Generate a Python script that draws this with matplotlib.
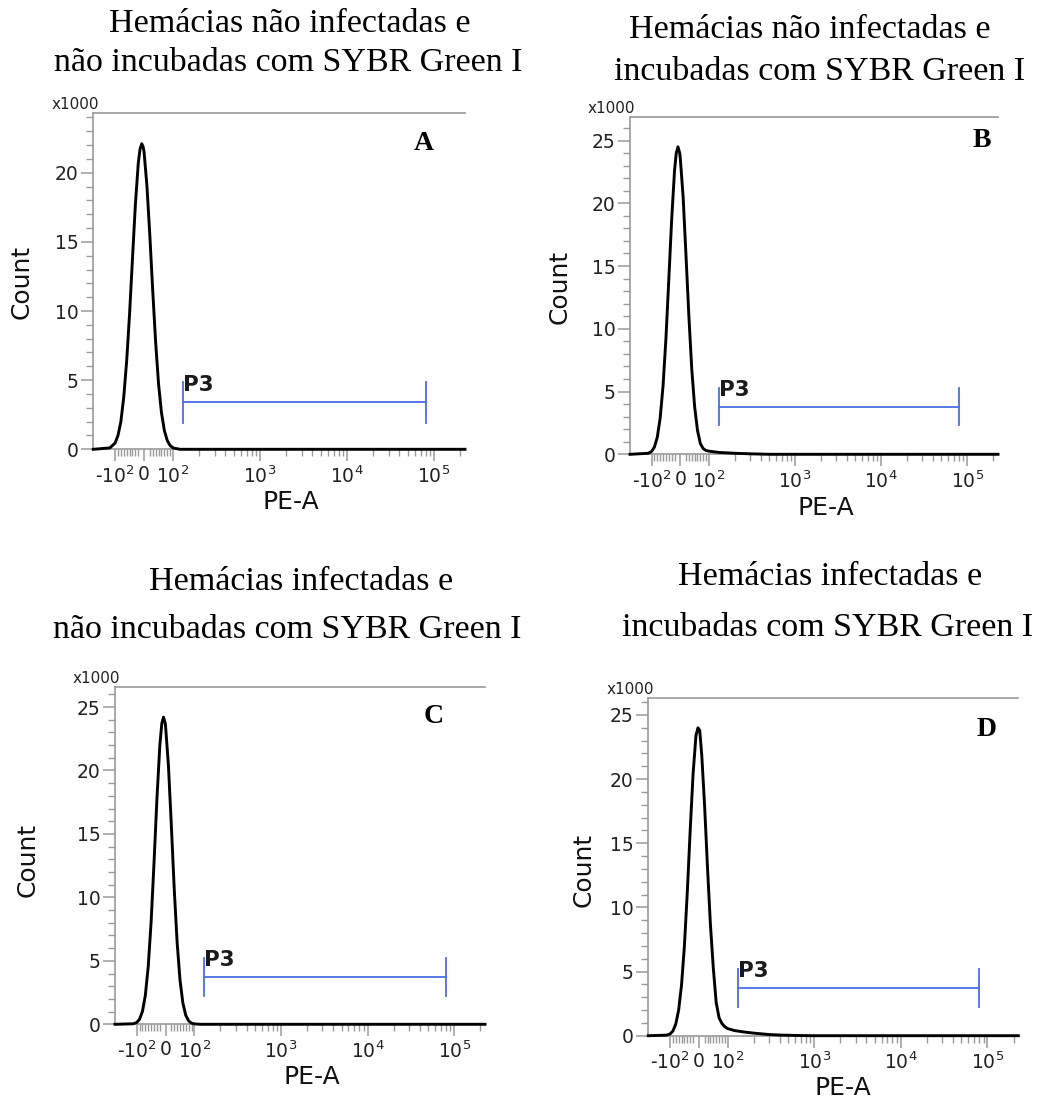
import matplotlib
matplotlib.use('Agg')
import matplotlib.pyplot as plt
from matplotlib.ticker import FixedLocator, NullFormatter, FixedFormatter

plt.rcParams['font.family'] = ['DejaVu Sans']
plt.rcParams['mathtext.fontset'] = 'dejavusans'

# ---------------- data (counts in thousands) ----------------
panel_letters = ['A', 'B', 'C', 'D']
title_line1 = ['Hemácias não infectadas e', 'Hemácias não infectadas e',
               'Hemácias infectadas e', 'Hemácias infectadas e']
title_line2 = ['não incubadas com SYBR Green I', 'incubadas com SYBR Green I',
               'não incubadas com SYBR Green I', 'incubadas com SYBR Green I']

x_A = [-178, -115, -100, -90, -80, -70, -60, -50, -40, -30, -20, -14, -8, -3, 0,
       10, 20, 30, 40, 50, 60, 70, 80, 90, 100, 120, 227000]
count_A = [0, 0.1, 0.45, 1.0, 2.0, 3.8, 6.4, 9.8, 13.8, 17.7, 20.7, 21.7, 22.1, 21.85, 21.5,
           19.0, 15.4, 11.4, 7.7, 4.7, 2.65, 1.35, 0.63, 0.27, 0.1, 0, 0]

x_B = [-178, -110, -100, -90, -80, -70, -60, -50, -40, -30, -20, -14, -8, -2, 0,
       10, 20, 30, 40, 50, 60, 70, 80, 90, 100, 130, 200, 300, 500, 227000]
count_B = [0, 0.08, 0.22, 0.58, 1.37, 2.9, 5.45, 9.2, 13.9, 18.7, 22.6, 24.0, 24.5, 24.0, 23.6,
           20.5, 15.8, 11.0, 6.8, 3.8, 1.9, 0.85, 0.45, 0.3, 0.25, 0.15, 0.08, 0.04, 0.0, 0]

x_C = [-178, -110, -100, -90, -80, -70, -60, -50, -40, -30, -20, -13, -7, -1, 0,
       10, 20, 30, 40, 50, 60, 70, 80, 90, 100, 120, 227000]
count_C = [0, 0.04, 0.14, 0.40, 1.02, 2.28, 4.56, 8.06, 12.7, 17.7, 21.9, 23.7, 24.2, 23.7, 23.5,
           20.4, 15.7, 10.7, 6.5, 3.5, 1.68, 0.71, 0.27, 0.09, 0.03, 0, 0]

x_D = [-178, -110, -100, -90, -80, -70, -60, -50, -40, -30, -20, -10, -3, 3,
       10, 20, 30, 40, 50, 60, 70, 80, 90, 100, 120, 150, 200, 300, 400, 600, 1000, 227000]
count_D = [0, 0.04, 0.13, 0.36, 0.9, 2.0, 3.95, 7.0, 11.2, 16.0, 20.4, 23.4, 24.0, 23.8,
           21.9, 17.9, 13.1, 8.7, 5.3, 2.6, 1.4, 0.95, 0.7, 0.55, 0.4, 0.3, 0.2, 0.09, 0.05, 0.02, 0, 0]

xs = [x_A, x_B, x_C, x_D]
counts = [count_A, count_B, count_C, count_D]

ymax = [24.34, 26.9, 26.6, 26.3]
gate_label = 'P3'
gate_lo, gate_hi = 130, 80000
gate_y = [3.4, 3.8, 3.75, 3.7]

x_major = [-100, 0, 100, 1000, 10000, 100000]
x_major_labels = ['-$10^{2}$', '0', '$10^{2}$', '$10^{3}$', '$10^{4}$', '$10^{5}$']
x_minor_lin = [-90, -80, -70, -60, -50, -40, -30, -20, 20, 30, 40, 50, 60, 70, 80, 90]

# ---------------- layout ----------------
W, H = 1043, 1101
fig = plt.figure(figsize=(W / 100, H / 100), dpi=100)

# axes boxes in pixels: left, top, right, bottom
boxes = [(93.3, 112.7, 465, 449.3),
         (630, 116.7, 998, 454.3),
         (115, 686.7, 485, 1024.3),
         (648.3, 698.3, 1018.3, 1035.7)]
letter_pos = [(0.888, 0.909), (0.956, 0.929), (0.860, 0.911), (0.915, 0.908)]
count_pos = [(-0.193, 0.498), (-0.19, 0.496), (-0.235, 0.487), (-0.176, 0.491)]
pea_pos = [(0.532, -0.156), (0.533, -0.159), (0.532, -0.155), (0.527, -0.156)]
title_px = [((289.5, 24), (288.5, 63)),
            ((810, 30), (820, 72)),
            ((301, 582), (287, 630)),
            ((830, 577), (828, 628))]

grey = '#9a9a9a'
blue = '#4a6ee0'

for i in range(4):
    l, t, r, b = boxes[i]
    ax = fig.add_axes([l / W, (H - b) / H, (r - l) / W, (b - t) / H])
    ax.set_xscale('symlog', linthresh=100, linscale=0.3, base=10)
    ax.set_xlim(-178, 227000)
    ax.set_ylim(0, ymax[i])

    ax.plot(xs[i], counts[i], color='black', lw=2.1, clip_on=False, zorder=3,
            solid_joinstyle='round')

    # gate
    gy = gate_y[i]
    ax.plot([gate_lo, gate_hi], [gy, gy], color=blue, lw=1.3, zorder=2)
    ax.plot([gate_lo, gate_lo], [gy - 1.5, gy + 1.5], color=blue, lw=1.3, zorder=2)
    ax.plot([gate_hi, gate_hi], [gy - 1.5, gy + 1.5], color=blue, lw=1.3, zorder=2)
    ax.text(gate_lo, gy + 0.55, gate_label, fontsize=15.5, fontweight='bold',
            color='#1a1a1a', ha='left', va='bottom')

    # spines
    ax.spines['right'].set_visible(False)
    for s in ['left', 'top', 'bottom']:
        ax.spines[s].set_color(grey)
        ax.spines[s].set_linewidth(1.2)

    # ticks
    ax.xaxis.set_major_locator(FixedLocator(x_major))
    ax.xaxis.set_major_formatter(FixedFormatter(x_major_labels))
    minors = list(x_minor_lin)
    for dec in [100, 1000, 10000, 100000]:
        for k in range(2, 10):
            v = dec * k
            if v <= 227000:
                minors.append(v)
    ax.xaxis.set_minor_locator(FixedLocator(minors))
    ax.xaxis.set_minor_formatter(NullFormatter())

    yt = [v for v in [0, 5, 10, 15, 20, 25] if v <= ymax[i]]
    ax.yaxis.set_major_locator(FixedLocator(yt))
    ax.yaxis.set_minor_locator(FixedLocator([v for v in range(0, 28) if v <= ymax[i] and v % 5 != 0]))
    ax.yaxis.set_minor_formatter(NullFormatter())

    ax.tick_params(axis='both', which='major', direction='out', length=8.5, width=1.1,
                   color=grey, labelsize=13.5, labelcolor='#222222', pad=2)
    ax.tick_params(axis='both', which='minor', direction='out', length=5, width=1.0,
                   color=grey)
    ax.tick_params(axis='x', which='major', pad=3)

    ax.text(letter_pos[i][0], letter_pos[i][1], panel_letters[i], transform=ax.transAxes,
            family='Liberation Serif', fontweight='bold', fontsize=20,
            ha='center', va='center', color='black')
    ax.text(count_pos[i][0], count_pos[i][1], 'Count', transform=ax.transAxes,
            rotation=90, ha='center', va='center', fontsize=18, color='#111111')
    ax.text(pea_pos[i][0], pea_pos[i][1], 'PE-A', transform=ax.transAxes,
            ha='center', va='center', fontsize=18, color='#111111')
    ax.text(0.015, 1.003, 'x1000', transform=ax.transAxes, ha='right', va='bottom',
            fontsize=11, color='#222222')

    (x1, y1), (x2, y2) = title_px[i]
    fig.text(x1 / W, 1 - y1 / H, title_line1[i], family='Liberation Serif',
             fontsize=24.5, ha='center', va='center')
    fig.text(x2 / W, 1 - y2 / H, title_line2[i], family='Liberation Serif',
             fontsize=24.5, ha='center', va='center')

fig.savefig('out.png', dpi=100)
